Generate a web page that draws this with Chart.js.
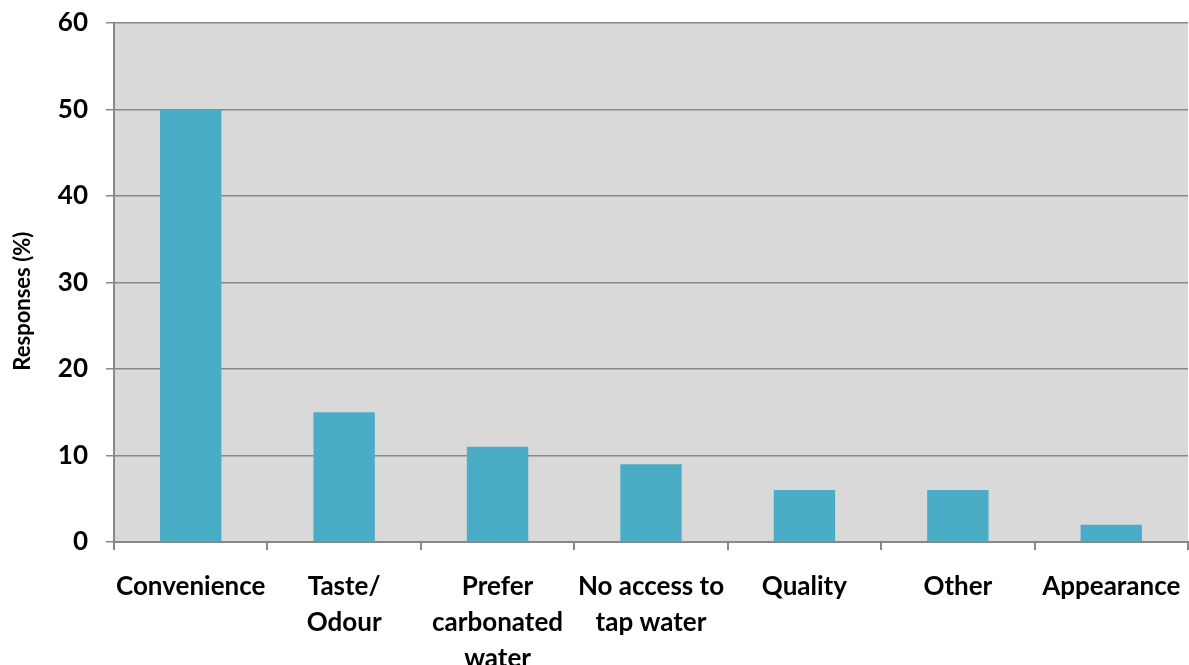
<!DOCTYPE html>
<html><head><meta charset="utf-8">
<script src="https://cdn.jsdelivr.net/npm/chart.js@4"></script>
<style>html,body{margin:0;padding:0;background:#fff;}#wrap{width:1189px;height:665px;}</style>
</head><body><div id="wrap"><canvas id="c" width="1189" height="665"></canvas></div>
<script>
const categories = [["Convenience"],["Taste/","Odour"],["Prefer","carbonated","water"],["No access to","tap water"],["Quality"],["Other"],["Appearance"]];
const responses = [50, 15, 11, 9, 6, 6, 2];
const yTicks = [0, 10, 20, 30, 40, 50, 60];

const bgPlugin = {
  id: 'bg',
  beforeDraw(chart) {
    const {ctx, chartArea: a} = chart;
    ctx.save();
    ctx.fillStyle = '#D9D9D9';
    ctx.fillRect(a.left, a.top, a.right - a.left, a.bottom - a.top);
    ctx.restore();
  }
};
const fam = 'Lato, "Open Sans", sans-serif';
new Chart(document.getElementById('c'), {
  type: 'bar',
  data: {labels: categories, datasets: [{data: responses, backgroundColor: '#4BACC6', borderWidth: 0, barPercentage: 0.4, categoryPercentage: 1}]},
  options: {
    responsive: false, animation: false,
    layout: {padding: {top: 23, right: 1, left: 0, bottom: 0}},
    plugins: {legend: {display: false}, tooltip: {enabled: false}},
    scales: {
      x: {
        grid: {offset: true, drawOnChartArea: false, color: '#888', lineWidth: 2, tickLength: 8},
        border: {color: '#888', width: 2},
        ticks: {color: '#000', font: {family: fam, weight: 'bold', size: 26, lineHeight: 1.38}, padding: 19, maxRotation: 0, autoSkip: false},
        afterFit(s) { s.height = 123; s.paddingLeft = 0; s.paddingRight = 0; }
      },
      y: {
        min: 0, max: 60,
        afterBuildTicks(s) { s.ticks = yTicks.map(v => ({value: v})); },
        grid: {color: '#888', lineWidth: 1.5, tickLength: 8},
        border: {color: '#888', width: 2},
        ticks: {color: '#000', font: {family: fam, weight: 'bold', size: 26}, padding: 18},
        title: {display: true, text: 'Responses (%)' + '\u00a0'.repeat(7), color: '#000', font: {family: fam, weight: 'bold', size: 22}, padding: {top: 10, bottom: 0}},
        afterFit(s) { s.width = 114; s.paddingTop = 0; s.paddingBottom = 0; }
      }
    }
  },
  plugins: [bgPlugin]
});
</script></body></html>
